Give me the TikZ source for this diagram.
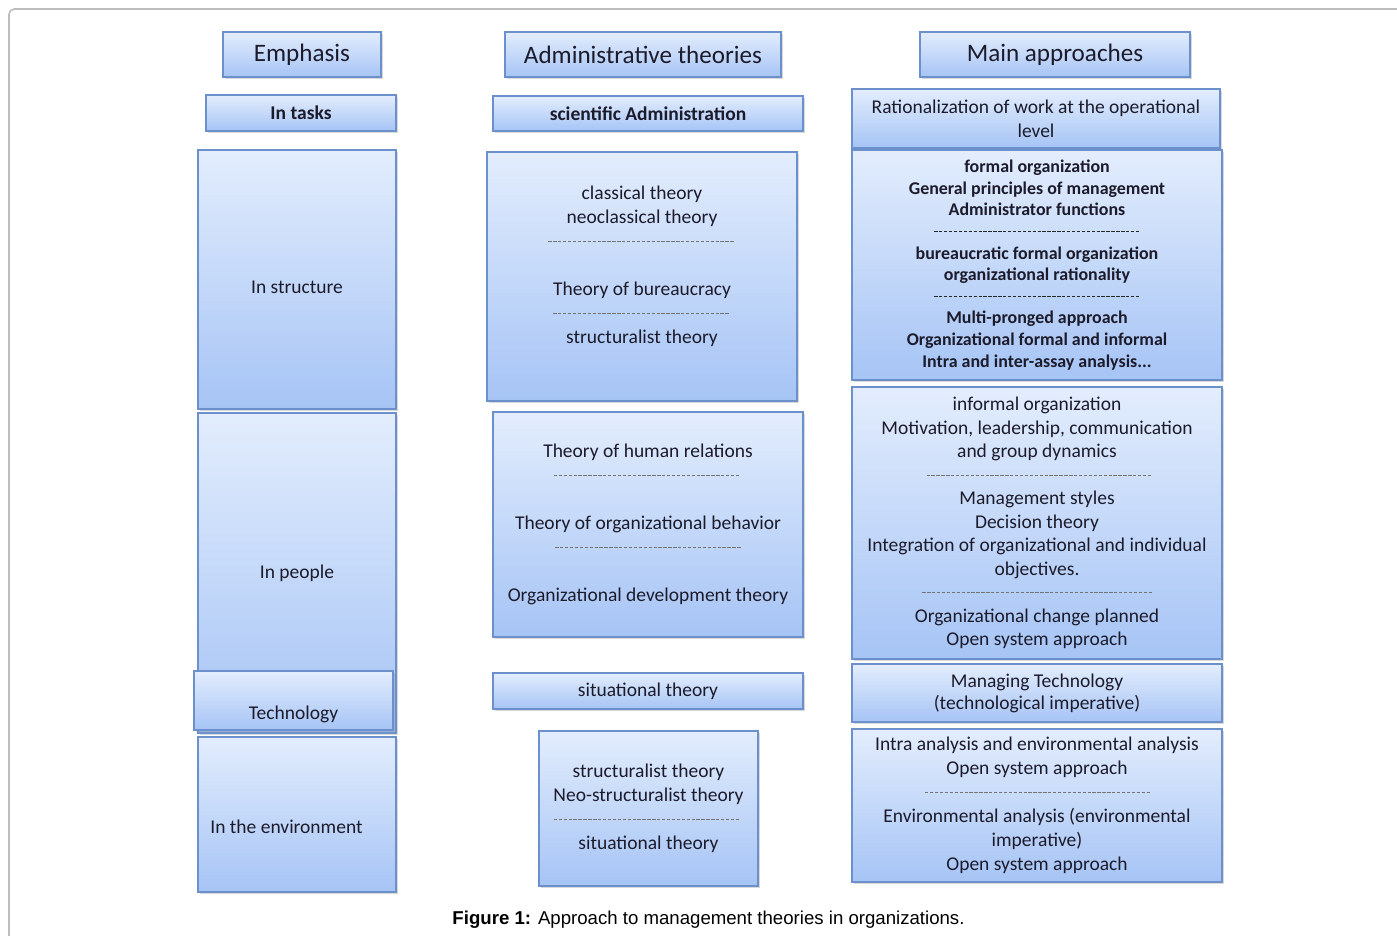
\documentclass[tikz,border=0pt]{standalone}
\usepackage{fontspec}
\setmainfont{Carlito}
\newfontfamily\captionfont{Liberation Sans}
\usepackage{xcolor}
\definecolor{BoxTop}{HTML}{E3EDFD}
\definecolor{BoxBottom}{HTML}{A6C4F5}
\definecolor{BoxEdge}{HTML}{6B90CC}
\definecolor{FrameGray}{HTML}{BDBDBD}
\definecolor{InkDark}{HTML}{1C1B2B}
\usetikzlibrary{shadows}

% dotted separator line inside the boxes
\newcommand{\dashsep}[2][black!55]{{\color{#1}\leaders\hbox to 2.8pt{\hss\rule[0.28em]{1.9pt}{0.55pt}\hss}\hskip#2\relax}}

\begin{document}
\begin{tikzpicture}[x=0.02cm,y=-0.02cm,
  box/.style={draw=BoxEdge,line width=0.8pt,top color=BoxTop,bottom color=BoxBottom,
    drop shadow={shadow xshift=1.2pt,shadow yshift=-1.2pt,opacity=0.3},
    align=center,text=InkDark,inner sep=0pt,font=\fontsize{11.1}{13.6}\selectfont},
  head/.style={box,font=\fontsize{14.3}{17}\selectfont},
  bold/.style={font=\fontsize{11.1}{13.6}\selectfont\bfseries},
  txt/.style={text=InkDark,inner sep=0pt,font=\fontsize{11.1}{13.6}\selectfont}
]
  \useasboundingbox (0,0) rectangle (1397,936);
  \clip (0,0) rectangle (1397,936);
  \draw[FrameGray,line width=0.9pt,rounded corners=3pt] (1450,9) -| (9,990);

  % emphasis column
  \node[head,minimum width=3.16cm,minimum height=0.9cm] (emph) at (302,54.5) {Emphasis};
  \node[box,bold,minimum width=3.8cm,minimum height=0.72cm] (tasks) at (301,113) {In tasks};
  \node[box,minimum width=3.96cm,minimum height=5.18cm] (structure) at (297,279.5) {};
  \node[txt] (structuretext) at (297,287) {In structure};
  \node[box,minimum width=3.96cm,minimum height=6.4cm] (people) at (297,573) {};
  \node[txt] (peopletext) at (297,573) {In people};
  \node[box,minimum width=3.98cm,minimum height=1.18cm] (techno) at (293.5,700.5) {};
  \node[txt] (technotext) at (293.5,714) {Technology};
  \node[box,minimum width=3.96cm,minimum height=3.1cm] (env) at (297,814.5) {};
  \node[txt,anchor=west] (envtext) at (210,827) {In the environment};

  % theories column
  \node[head,minimum width=5.52cm,minimum height=0.9cm] (admin) at (643,54.5) {Administrative theories};
  \node[box,bold,minimum width=6.2cm,minimum height=0.7cm] (scient) at (648,113.5) {scientific Administration};
  \node[box,minimum width=6.2cm,minimum height=4.98cm] (classic) at (642,276.5)
    {classical theory\\neoclassical theory\\\dashsep{3.78cm}\\\mbox{}\\Theory of bureaucracy\\\dashsep{3.68cm}\\structuralist theory\\\mbox{}};
  \node[box,minimum width=6.2cm,minimum height=4.5cm] (human) at (648,524.5)
    {Theory of human relations\\\dashsep{3.82cm}\\\mbox{}\\Theory of organizational behavior\\\dashsep{3.82cm}\\\mbox{}\\Organizational development theory};
  \node[box,minimum width=6.2cm,minimum height=0.72cm] (situat) at (648,691) {situational theory};
  \node[box,minimum width=4.38cm,minimum height=3.1cm] (neostruct) at (648.5,808.5)
    {structuralist theory\\Neo-structuralist theory\\\dashsep{3.82cm}\\situational theory};

  % approaches column
  \node[head,minimum width=5.4cm,minimum height=0.9cm] (mainapp) at (1055,54.5) {Main approaches};
  \node[box,minimum width=7.36cm,minimum height=1.18cm] (ration) at (1036,118.5)
    {Rationalization of work at the operational\\level};
  \node[box,minimum width=7.4cm,minimum height=4.6cm,font=\fontsize{10.2}{12.3}\selectfont\bfseries] (formal) at (1037,265)
    {formal organization\\General principles of management\\Administrator functions\\\dashsep[black!85]{4.3cm}\\bureaucratic formal organization\\organizational rationality\\\dashsep[black!85]{4.3cm}\\Multi-pronged approach\\Organizational formal and informal\\Intra and inter-assay analysis...};
  \node[box,minimum width=7.4cm,minimum height=5.44cm,font=\fontsize{11.1}{13.4}\selectfont] (informal) at (1037,523)
    {informal organization\\Motivation, leadership, communication\\and group dynamics\\\dashsep{4.64cm}\\Management styles\\Decision theory\\Integration of organizational and individual\\objectives.\\\dashsep{4.64cm}\\Organizational change planned\\Open system approach};
  \node[box,minimum width=7.4cm,minimum height=1.16cm,font=\fontsize{11.1}{12.5}\selectfont] (managing) at (1037,693)
    {Managing Technology\\(technological imperative)};
  \node[box,minimum width=7.4cm,minimum height=3.06cm] (intra) at (1037,805.5)
    {Intra analysis and environmental analysis\\Open system approach\\\dashsep{4.64cm}\\Environmental analysis (environmental\\imperative)\\Open system approach};

  \node[font=\captionfont\fontsize{10.6}{12}\selectfont] (caption) at (708.5,919.5)
    {\textbf{Figure 1:} Approach to management theories in organizations.};
\end{tikzpicture}
\end{document}
